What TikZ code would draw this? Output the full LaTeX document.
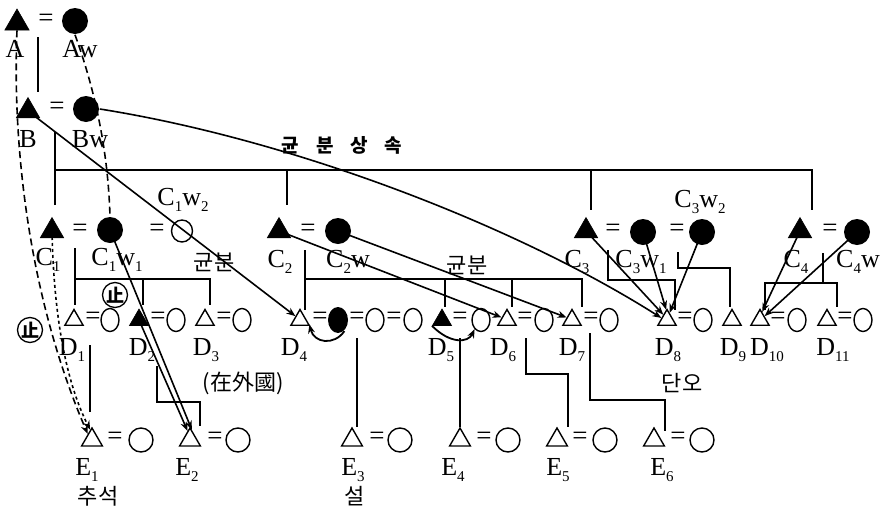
\documentclass[tikz,border=0pt]{standalone}
\usepackage{fontspec}
\setmainfont{Liberation Serif}
\newfontfamily\kr{Noto Sans CJK KR}
\usetikzlibrary{shapes.geometric,arrows.meta}
\newcommand\sbs[1]{\raisebox{-0.25em}{\fontsize{15}{15}\selectfont #1}}
\begin{document}
\begin{tikzpicture}[x=1pt,y=-1pt,line width=1.6pt,
  ftri/.style={regular polygon,regular polygon sides=3,fill=black,draw=black,line width=0.6pt,inner sep=0pt,minimum size=27pt},
  ftris/.style={regular polygon,regular polygon sides=3,fill=black,draw=black,line width=0.6pt,inner sep=0pt,minimum size=22pt},
  otri/.style={regular polygon,regular polygon sides=3,draw=black,line width=1.4pt,inner sep=0pt,minimum size=21pt},
  otrie/.style={regular polygon,regular polygon sides=3,draw=black,line width=1.4pt,inner sep=0pt,minimum size=24pt},
  fcirc/.style={circle,fill=black,inner sep=0pt,minimum size=26pt},
  fell/.style={ellipse,fill=black,inner sep=0pt,minimum width=20pt,minimum height=26pt},
  ocirc/.style={ellipse,draw=black,line width=1.4pt,inner sep=0pt,minimum width=18pt,minimum height=23pt},
  ocirce/.style={circle,draw=black,line width=1.4pt,inner sep=0pt,minimum size=24pt},
  eqs/.style={inner sep=0pt,font=\fontsize{27}{27}\selectfont},
  lbl/.style={inner sep=0pt,font=\fontsize{26}{27}\selectfont},
  krl/.style={inner sep=0pt,font=\kr\fontsize{22}{24}\selectfont},
  krb/.style={inner sep=0pt,font=\kr\bfseries\fontsize{19}{20}\selectfont},
  stopc/.style={circle,draw=black,line width=1.3pt,inner sep=0pt,minimum size=25pt,font=\kr\bfseries\fontsize{18}{18}\selectfont},
  arr/.style={-{Stealth[length=9pt,width=7pt]}},
  dsh/.style={dash pattern=on 7pt off 4pt},
  dtt/.style={dash pattern=on 3pt off 3pt}
]
\useasboundingbox (0,0) rectangle (881,512);

% ---------- A generation ----------
\node[ftri,minimum size=28pt] (A) at (17,23) {};
\node[eqs] (eA) at (46,20) {=};
\node[fcirc] (Aw) at (75,21) {};
\node[lbl] (lA) at (15,49) {A};
\node[lbl] (lAw) at (80,49) {Aw};
\draw (38,37) -- (38,92);

% ---------- B generation ----------
\node[ftri] (B) at (28,111) {};
\node[eqs] (eB) at (57,108) {=};
\node[fcirc] (Bw) at (86,109) {};
\node[lbl] (lB) at (28,139) {B};
\node[lbl] (lBw) at (90,139) {Bw};
\draw (55,132) -- (55,170);
\draw (55,205) -- (55,170) -- (812,170) -- (812,210);
\draw (287,170) -- (287,205);
\draw (591,170) -- (591,210);
\node[krb] (gbss) at (342,145) {균\hspace{17pt}분\hspace{17pt}상\hspace{17pt}속};

% ---------- C generation ----------
\node[ftri] (C1) at (52,231) {};
\node[eqs] (eC1) at (80,230) {=};
\node[fcirc] (C1w1) at (110,230) {};
\node[eqs] (eC1b) at (157,230) {=};
\node[ocirc,minimum width=21pt,minimum height=22pt] (C1w2) at (182,231) {};
\node[lbl] (lC1) at (48,260) {C\sbs{1}};
\node[lbl] (lC1w1) at (117,260) {C\sbs{1}w\sbs{1}};
\node[lbl] (lC1w2) at (183,200) {C\sbs{1}w\sbs{2}};
\node[krl] (gb1) at (214,262) {균분};
\draw (75,248) -- (75,305);
\draw (75,279) -- (210,279) -- (210,305);
\draw (143,279) -- (143,305);

\node[ftri] (C2) at (279,231) {};
\node[eqs] (eC2) at (308,230) {=};
\node[fcirc] (C2w) at (338,231) {};
\node[lbl] (lC2) at (280,262) {C\sbs{2}};
\node[lbl] (lC2w) at (348,262) {C\sbs{2}w};
\node[krl] (gb2) at (467,265) {균분};
\draw (305,250) -- (305,310);
\draw (305,279) -- (582,279) -- (582,307);
\draw (445,279) -- (445,307);
\draw (512,279) -- (512,307);

\node[ftri] (C3) at (586,231) {};
\node[eqs] (eC3) at (613,230) {=};
\node[fcirc] (C3w1) at (643,232) {};
\node[eqs] (eC3b) at (677,230) {=};
\node[fcirc] (C3w2) at (702,232) {};
\node[lbl] (lC3) at (577,262) {C\sbs{3}};
\node[lbl] (lC3w1) at (641,262) {C\sbs{3}w\sbs{1}};
\node[lbl] (lC3w2) at (700,202) {C\sbs{3}w\sbs{2}};
\draw (608,250) -- (608,280) -- (675,280) -- (675,310);
\draw (678,252) -- (678,268) -- (730,268) -- (730,307);

\node[ftri] (C4) at (800,231) {};
\node[eqs] (eC4) at (830,230) {=};
\node[fcirc] (C4w) at (857,232) {};
\node[lbl] (lC4) at (796,262) {C\sbs{4}};
\node[lbl] (lC4w) at (858,262) {C\sbs{4}w};
\draw (823,253) -- (823,283);
\draw (765,310) -- (765,283) -- (837,283) -- (837,307);

% ---------- D generation ----------
\node[otri] (D1) at (74,320) {};
\node[eqs] (eD1) at (93,318) {=};
\node[ocirc] (D1w) at (110,320) {};
\node[ftris] (D2) at (139,320) {};
\node[eqs] (eD2) at (158,318) {=};
\node[ocirc] (D2w) at (176,320) {};
\node[otri] (D3) at (205,320) {};
\node[eqs] (eD3) at (224,318) {=};
\node[ocirc] (D3w) at (242,320) {};
\node[otri] (D4) at (300,320) {};
\node[eqs] (eD4) at (320,318) {=};
\node[fell] (D4w) at (338,320) {};
\node[eqs] (eD4b) at (357,318) {=};
\node[ocirc] (D4w2) at (375,320) {};
\node[eqs] (eD4c) at (394,318) {=};
\node[ocirc] (D4w3) at (413,320) {};
\node[ftris] (D5) at (442,320) {};
\node[eqs] (eD5) at (460,318) {=};
\node[ocirc] (D5w) at (481,320) {};
\node[otri] (D6) at (507,320) {};
\node[eqs] (eD6) at (525,318) {=};
\node[ocirc] (D6w) at (544,320) {};
\node[otri] (D7) at (572,320) {};
\node[eqs] (eD7) at (591,318) {=};
\node[ocirc] (D7w) at (609,320) {};
\node[otri] (D8) at (667,320) {};
\node[eqs] (eD8) at (685,318) {=};
\node[ocirc] (D8w) at (703,320) {};
\node[otri] (D9) at (732,320) {};
\node[otri] (D10) at (760,320) {};
\node[eqs] (eD10) at (778,318) {=};
\node[ocirc] (D10w) at (797,320) {};
\node[otri] (D11) at (827,320) {};
\node[eqs] (eD11) at (845,318) {=};
\node[ocirc] (D11w) at (863,320) {};

\node[lbl] (lD1) at (72,350) {D\sbs{1}};
\node[lbl] (lD2) at (142,350) {D\sbs{2}};
\node[lbl] (lD3) at (206,350) {D\sbs{3}};
\node[lbl] (lD4) at (294,350) {D\sbs{4}};
\node[lbl] (lD5) at (441,350) {D\sbs{5}};
\node[lbl] (lD6) at (503,350) {D\sbs{6}};
\node[lbl] (lD7) at (572,350) {D\sbs{7}};
\node[lbl] (lD8) at (668,350) {D\sbs{8}};
\node[lbl] (lD9) at (733,350) {D\sbs{9}};
\node[lbl] (lD10) at (767,350) {D\sbs{10}};
\node[lbl] (lD11) at (833,350) {D\sbs{11}};
\node[krl] (jw) at (243,383) {(在外國)};
\node[krl] (dano) at (682,383) {단오};

\node[stopc] (st1) at (115,295) {止};
\node[stopc] (st2) at (30,330) {止};

% ---------- E generation ----------
\node[otrie] (E1) at (92,440) {};
\node[eqs] (eE1) at (115,438) {=};
\node[ocirce] (E1w) at (141,440) {};
\node[otrie] (E2) at (190,440) {};
\node[eqs] (eE2) at (215,438) {=};
\node[ocirce] (E2w) at (238,440) {};
\node[otrie] (E3) at (352,440) {};
\node[eqs] (eE3) at (377,438) {=};
\node[ocirce] (E3w) at (400,440) {};
\node[otrie] (E4) at (460,440) {};
\node[eqs] (eE4) at (484,438) {=};
\node[ocirce] (E4w) at (508,440) {};
\node[otrie] (E5) at (557,440) {};
\node[eqs] (eE5) at (580,438) {=};
\node[ocirce] (E5w) at (605,440) {};
\node[otrie] (E6) at (654,440) {};
\node[eqs] (eE6) at (678,438) {=};
\node[ocirce] (E6w) at (702,440) {};
\node[lbl] (lE1) at (87,470) {E\sbs{1}};
\node[lbl] (lE2) at (187,470) {E\sbs{2}};
\node[lbl] (lE3) at (353,470) {E\sbs{3}};
\node[lbl] (lE4) at (453,470) {E\sbs{4}};
\node[lbl] (lE5) at (558,470) {E\sbs{5}};
\node[lbl] (lE6) at (662,470) {E\sbs{6}};
\node[krl] (chs) at (98,496) {추석};
\node[krl] (sol) at (355,496) {설};

\draw (90,345) -- (90,412);
\draw (157,366) -- (157,402) -- (200,402) -- (200,426);
\draw (357,338) -- (357,427);
\draw (460,338) -- (460,427);
\draw (526,338) -- (526,374) -- (568,374) -- (568,427);
\draw (590,333) -- (590,400) -- (665,400) -- (665,431);

% ---------- arrows ----------
\draw[arr] (Bw.east) .. controls (295,140) and (518,227) .. (D8.160);
\draw[arr] (B.center) -- (D4.140);
\draw[arr] (C1w1.center) -- (E2.80);
\draw[arr] (D2.center) -- (E2.105);
\draw[arr] (C2.center) -- (D6.155);
\draw[arr] (C2w.center) -- (D7.155);
\draw[arr] (C3.center) -- (D8.125);
\draw[arr] (C3w1.center) -- (D8.95);
\draw[arr] (C3w2.center) -- (D8.70);
\draw[arr] (C4.center) -- (D10.75);
\draw[arr] (C4w.center) -- (D10.40);
\draw[arr,line width=1.8pt] (D4w.-60) .. controls (334,346) and (314,343) .. (D4.-25);
\draw[arr,line width=1.8pt] (D5.-150) .. controls (450,344) and (468,343) .. (D5w.-125);
\draw[arr,dsh] (A.south) .. controls (12,150) and (30,300) .. (E1.125);
\draw[arr,dtt] (C1.center) .. controls (54,330) and (70,390) .. (E1.100);
\draw[dsh] (Aw.south) .. controls (95,90) and (108,150) .. (C1w1.north);
\end{tikzpicture}
\end{document}
